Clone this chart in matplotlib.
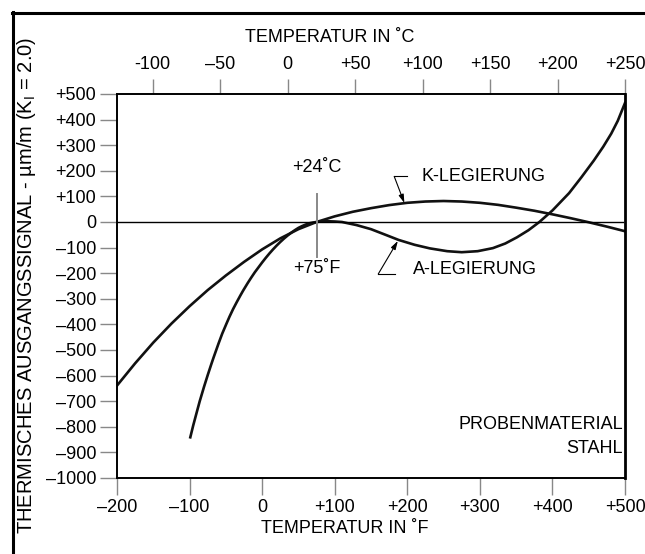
import numpy as np
import matplotlib.pyplot as plt
from matplotlib.lines import Line2D

plt.rcParams['font.family'] = ['Liberation Sans', 'DejaVu Sans']
plt.rcParams['mathtext.default'] = 'regular'

#? Daten
k_temp_f = [-200, -175, -150, -125, -100, -75, -50, -25, 0, 25, 50, 75, 100, 125,
            150, 175, 200, 225, 250, 275, 300, 325, 350, 375, 400, 425, 450, 475,
            500]
k_signal = [-639, -552, -471, -397, -329, -266, -209, -156, -107, -64, -28, 0,
            22, 40, 54, 66, 75, 80, 82, 80, 75, 67, 56, 44, 30, 15, -1, -18, -36]

a_temp_f = [-99, -95, -90, -86, -80, -75, -70, -67, -60, -55, -49, -45, -40, -35,
            -30, -26, -20, -15, -10, -5, 0, 5, 10, 15, 20, 25, 30, 35, 40, 45, 50,
            55, 60, 65, 70, 75, 80, 90, 100, 110, 130, 150, 170, 188, 210, 231,
            255, 275, 297, 318, 335, 351, 367, 382, 400, 423, 440, 457, 470, 481,
            490, 500]
a_signal = [-841, -795, -742, -700, -643, -598, -555, -530, -474, -436, -396,
            -370, -340, -313, -287, -267, -239, -217, -196, -177, -158, -140,
            -123, -107, -92, -78, -65, -53, -42, -32, -23, -16, -10, -5, -2, 0,
            2, 3, 2, 0, -12, -28, -50, -70, -89, -103, -114, -118, -114, -102,
            -84, -60, -32, 0, 45, 113, 175, 240, 294, 345, 395, 465]

x_ticks_f = [-200, -100, 0, 100, 200, 300, 400, 500]
x_labels_f = ['–200', '–100', '0', '+100', '+200', '+300', '+400', '+500']
y_ticks = list(range(500, -1001, -100))
y_labels = ['+500', '+400', '+300', '+200', '+100', '0', '–100', '–200', '–300',
            '–400', '–500', '–600', '–700', '–800', '–900', '–1000']
c_ticks = [-100, -50, 0, 50, 100, 150, 200, 250]
c_labels = ['-100', '–50', '0', '+50', '+100', '+150', '+200', '+250']

ref_f = 75

#? Grafik
fig = plt.figure(figsize=(6.45, 5.54), dpi=100)
ax = fig.add_axes([117/645, 1 - 478/554, 508/645, 384/554])

ax.plot(k_temp_f, k_signal, color='#111111', lw=1.9, solid_joinstyle='round')
ax.plot(a_temp_f, a_signal, color='#111111', lw=1.9, solid_joinstyle='round')
ax.axhline(0, color='black', lw=1.0, xmax=0.997)
ax.plot([ref_f, ref_f], [110, -137], color='#888888', lw=1.4)

ax.set_xlim(-200, 500)
ax.set_ylim(-1000, 500)

ax.set_xticks(x_ticks_f)
ax.set_xticklabels(x_labels_f)
ax.set_yticks(y_ticks)
ax.set_yticklabels(y_labels)
ax.tick_params(axis='both', labelsize=13, length=12, width=1.0, color='#888888',
               pad=3)
ax.set_xlabel('TEMPERATUR IN ˚F', fontsize=13, labelpad=3, x=0.449)

for s in ax.spines.values():
    s.set_linewidth(1.4)
ax.spines['right'].set_linewidth(2.0)

#! obere Achse in °C (wie im Original leicht gestreckt)
sec = ax.secondary_xaxis('top', functions=(lambda f: (f - 35) / 1.86,
                                            lambda c: c * 1.86 + 35))
sec.set_xticks(c_ticks)
sec.set_xticklabels(c_labels)
sec.tick_params(labelsize=13, length=11, width=1.0, color='#888888', pad=4)
sec.spines['top'].set_visible(False)
sec.set_xlabel('TEMPERATUR IN ˚C', fontsize=13, labelpad=10, x=0.419)

fig.text(27/645, 1 - 285/554, r'THERMISCHES AUSGANGSSIGNAL - µm/m (K$_{I}$ = 2.0)',
         rotation=90, ha='center', va='center', fontsize=14.5)

#? Beschriftungen
ax.text(ref_f, 211, '+24˚C', ha='center', va='center', fontsize=13)
ax.text(ref_f, -182, '+75˚F', ha='center', va='center', fontsize=13)
ax.text(219, 178, 'K-LEGIERUNG', ha='left', va='center', fontsize=13)
ax.text(208, -185, 'A-LEGIERUNG', ha='left', va='center', fontsize=13)
ax.text(497, -790, 'PROBENMATERIAL', ha='right', va='center', fontsize=13)
ax.text(497, -884, 'STAHL', ha='right', va='center', fontsize=13)

arrow = dict(arrowstyle='-|>,head_length=0.5,head_width=0.15', lw=0.8,
             color='black', shrinkA=0, shrinkB=0)
ax.plot([182, 200], [178, 178], color='black', lw=0.8)
ax.annotate('', xy=(196, 74), xytext=(182, 178), arrowprops=arrow)
ax.plot([160, 183], [-203, -203], color='black', lw=0.8)
ax.annotate('', xy=(187, -74), xytext=(160, -203), arrowprops=arrow)

#! Rahmen links und oben
fig.add_artist(Line2D([13/645, 13/645], [0, 1 - 12/554], color='black', lw=2.2,
                      transform=fig.transFigure))
fig.add_artist(Line2D([12/645, 1], [1 - 13/554, 1 - 13/554], color='black', lw=2.2,
                      transform=fig.transFigure))

fig.savefig('out.png', dpi=100)
